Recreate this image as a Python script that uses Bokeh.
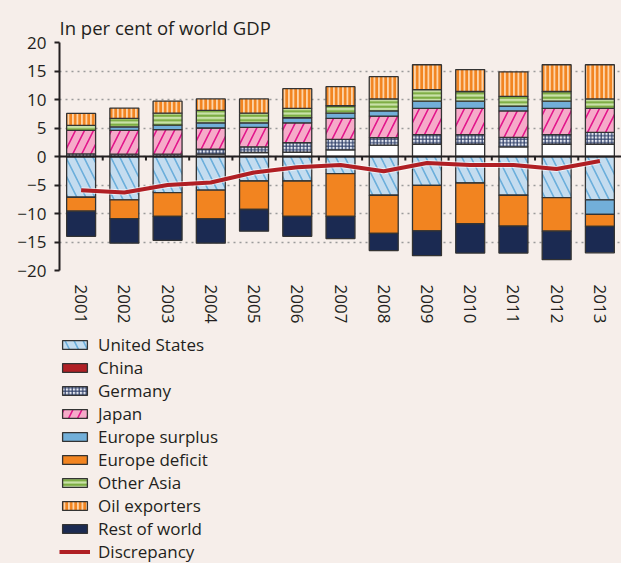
import numpy as np
from bokeh.plotting import figure
from bokeh.layouts import column
from bokeh.models import (ColumnDataSource, FactorRange, FixedTicker, Legend, LegendItem, Span)
from bokeh.embed import file_html
from bokeh.resources import INLINE

# ---------------- data (per cent of world GDP) ----------------
years = ["2001", "2002", "2003", "2004", "2005", "2006", "2007",
         "2008", "2009", "2010", "2011", "2012", "2013"]

united_states  = [-7.15, -7.6, -6.35, -5.9, -4.3, -4.3, -3.0, -6.8, -5.05, -4.65, -6.8, -7.2, -7.6]
china          = [0.0, 0.0, 0.0, 0.4, 0.7, 0.75, 1.15, 2.0, 2.15, 2.15, 1.7, 2.15, 2.15]
germany        = [0.45, 0.4, 0.4, 0.9, 1.0, 1.7, 1.85, 1.3, 1.7, 1.7, 1.65, 1.7, 2.1]
japan          = [4.15, 4.2, 4.3, 3.7, 3.4, 3.45, 3.7, 3.8, 4.6, 4.6, 4.65, 4.6, 4.2]
europe_surplus = [0.0, 0.6, 0.8, 0.9, 0.8, 0.9, 0.9, 0.9, 1.25, 1.25, 0.85, 1.25, -2.55]
europe_deficit = [-2.45, -3.3, -4.15, -5.05, -5.0, -6.2, -7.5, -6.7, -8.0, -7.15, -5.4, -5.9, -2.1]
other_asia     = [0.85, 1.5, 2.1, 2.2, 1.7, 1.65, 1.3, 2.1, 2.05, 1.7, 1.7, 1.7, 1.65]
oil_exporters  = [2.1, 1.8, 2.1, 2.0, 2.5, 3.45, 3.35, 3.9, 4.35, 3.85, 4.3, 4.7, 6.0]
rest_of_world  = [-4.4, -4.3, -4.2, -4.25, -3.8, -3.5, -3.9, -3.0, -4.35, -5.15, -4.75, -5.0, -4.65]
discrepancy    = [-5.9, -6.3, -5.0, -4.55, -2.8, -1.9, -1.5, -2.6, -1.15, -1.5, -1.5, -2.2, -0.8]

y_ticks = [-20, -15, -10, -5, 0, 5, 10, 15, 20]

# ---------------- styles ----------------
INK = "#231f20"
BG = "#f6eeea"
FONT = "Open Sans"
DISC_RED = "#b01f24"

series = [
    # key, label, values, fill, hatch pattern, hatch color, hatch scale, hatch weight
    ("us", "United States", united_states, "#c4dcef", "\\", "#6aaedb", 18, 1.6),
    ("china", "China", china, "#ffffff", None, None, None, None),
    ("germany", "Germany", germany, "#e6e9f2", "+", "#2f3f68", 3.5, 1.2),
    ("japan", "Japan", japan, "#f6aac9", "/", "#e2148a", 18, 1.6),
    ("esur", "Europe surplus", europe_surplus, "#72afd9", None, None, None, None),
    ("edef", "Europe deficit", europe_deficit, "#f28420", None, None, None, None),
    ("oasia", "Other Asia", other_asia, "#c9e1a8", "-", "#76a83a", 4.5, 2.0),
    ("oil", "Oil exporters", oil_exporters, "#fdd3a8", "|", "#f28420", 4.5, 2.8),
    ("row", "Rest of world", rest_of_world, "#1b2a52", None, None, None, None),
]


def bar_style(fill, hp, hc, hs, hw):
    kw = dict(fill_color=fill, line_color="#333333", line_width=1.3)
    if hp:
        kw.update(hatch_pattern=hp, hatch_color=hc, hatch_scale=hs, hatch_weight=hw)
    return kw


# stacking: positives upward, negatives downward, in series order
data = {"x": years}
pos = np.zeros(len(years))
neg = np.zeros(len(years))
for key, _, vals, *_ in series:
    v = np.array(vals, dtype=float)
    bottom = np.where(v >= 0, pos, neg + v)
    top = np.where(v >= 0, pos + v, neg)
    pos = np.where(v >= 0, pos + v, pos)
    neg = np.where(v < 0, neg + v, neg)
    data[key + "_b"] = bottom
    data[key + "_t"] = top
src = ColumnDataSource(data)

FRAME_LEFT = 59
FRAME_TOP = 42
FRAME_H = 228
CHART_H = 330
p = figure(x_range=FactorRange(factors=years, range_padding=0),
           y_range=(-20, 20),
           width=621, height=CHART_H,
           min_border_left=FRAME_LEFT, min_border_right=0, min_border_top=FRAME_TOP,
           min_border_bottom=CHART_H - FRAME_TOP - FRAME_H,
           output_backend="svg", toolbar_location=None,
           background_fill_color=BG, border_fill_color=BG)
p.outline_line_color = None

p.title.text = "In per cent of world GDP"
p.title.align = "left"
p.title.text_font = FONT
p.title.text_font_size = "18.5px"
p.title.text_font_style = "normal"
p.title.text_color = INK
p.title.offset = 0
p.title.standoff = 6

# grid
p.xgrid.grid_line_color = None
p.ygrid.ticker = FixedTicker(ticks=y_ticks)
p.ygrid.grid_line_color = "#9b9b9b"
p.ygrid.grid_line_dash = "2 4"
p.ygrid.grid_line_width = 1.5

# y axis
p.yaxis.ticker = FixedTicker(ticks=y_ticks)
p.yaxis.major_label_overrides = {t: str(t).replace("-", "\u2212") for t in y_ticks}
p.yaxis.axis_line_width = 2
p.yaxis.axis_line_color = INK
p.yaxis.major_tick_line_color = INK
p.yaxis.major_tick_line_width = 2
p.yaxis.major_tick_in = 0
p.yaxis.major_tick_out = 5
p.yaxis.minor_tick_line_color = None
p.yaxis.major_label_standoff = 8
p.yaxis.major_label_text_font = FONT
p.yaxis.major_label_text_font_size = "17px"
p.yaxis.major_label_text_color = INK

# x axis
p.xaxis.axis_line_color = None
p.xaxis.major_tick_line_color = None
p.xaxis.minor_tick_line_color = None
p.xaxis.major_label_orientation = "vertical"
p.xaxis.major_label_standoff = 8
p.xaxis.major_label_text_font = FONT
p.xaxis.major_label_text_font_size = "17px"
p.xaxis.major_label_text_color = INK

# bars
for key, label, vals, fill, hp, hc, hs, hw in series:
    p.vbar(x="x", bottom=key + "_b", top=key + "_t", width=0.67, source=src,
           **bar_style(fill, hp, hc, hs, hw))

# zero line and category ticks on it
p.add_layout(Span(location=0, dimension="width", line_color=INK, line_width=2))
bounds = np.arange(1, len(years))
p.segment(x0=bounds, x1=bounds, y0=np.zeros(len(bounds)), y1=np.full(len(bounds), -0.7),
          line_color=INK, line_width=2)

# discrepancy line
p.line(x=years, y=discrepancy, line_color="white", line_width=6, line_alpha=0.6)
p.line(x=years, y=discrepancy, line_color=DISC_RED, line_width=4)

# ---------------- legend panel ----------------
# key renderers hold a single NaN point: nothing is drawn, only their legend swatches show
LEG_H = 563 - CHART_H
lf = figure(width=621, height=LEG_H, x_range=(0, 1), y_range=(0, 1),
            x_axis_location=None, y_axis_location=None,
            min_border_left=FRAME_LEFT, min_border_right=0, min_border_top=0, min_border_bottom=0,
            output_backend="svg", toolbar_location=None,
            background_fill_color=BG, border_fill_color=BG)
lf.outline_line_color = None
lf.grid.visible = False

NAN = np.array([np.nan])
items = []
for key, label, vals, fill, hp, hc, hs, hw in series:
    if key == "china":
        r = lf.vbar(x=NAN, top=NAN, bottom=NAN, width=0.5,
                    fill_color=DISC_RED, line_color="#333333", line_width=1.3)
    else:
        r = lf.vbar(x=NAN, top=NAN, bottom=NAN, width=0.5, **bar_style(fill, hp, hc, hs, hw))
    items.append(LegendItem(label=label, renderers=[r]))
rd = lf.line(x=np.array([np.nan, np.nan]), y=np.array([np.nan, np.nan]),
             line_color=DISC_RED, line_width=4)
items.append(LegendItem(label="Discrepancy", renderers=[rd]))

ROW = 23
LEGEND_TOP = 333 - CHART_H
legend_h = ROW * len(items)
legend = Legend(items=items, orientation="vertical",
                location=(0, LEG_H - LEGEND_TOP - legend_h),
                background_fill_alpha=0, border_line_color=None,
                label_text_font=FONT, label_text_font_size="17px", label_text_color=INK,
                glyph_width=31, glyph_height=11, label_height=ROW, spacing=0,
                padding=0, margin=0, label_standoff=8)
lf.add_layout(legend, "center")

layout = column(p, lf, spacing=0, styles={"background-color": BG})
open("out.html", "w").write(file_html(layout, INLINE))
